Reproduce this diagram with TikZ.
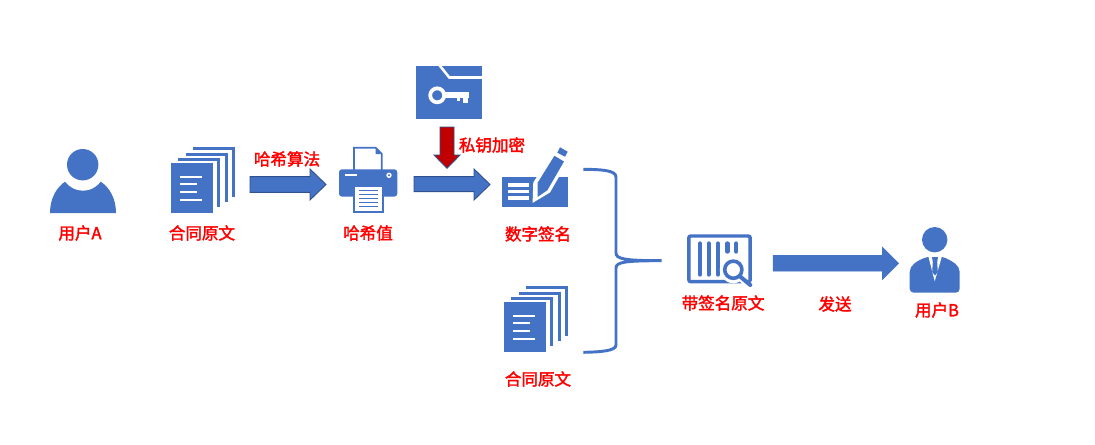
\documentclass[tikz,border=0pt]{standalone}
\usepackage{fontspec}
\newfontfamily\cjk[FakeBold=2]{Noto Sans CJK SC}
\definecolor{iconblue}{HTML}{4472C4}
\definecolor{edgeblue}{HTML}{2F528F}
\definecolor{darkred}{HTML}{C00000}
\tikzset{
  lbl/.style={text=red,font=\cjk\fontsize{12.4}{14}\selectfont,inner sep=0pt},
  ico/.style={fill=iconblue,draw=none},
  cut/.style={draw=white,line width=1.9pt},
  blockarrow/.style={fill=iconblue,draw=edgeblue,line width=0.7pt,line join=miter},
  redarrow/.style={fill=darkred,draw=edgeblue,line width=0.7pt,line join=miter},
  pagestrip/.style={draw=iconblue,line width=2.4pt,line cap=butt,line join=miter},
  textline/.style={draw=white,line width=1.1pt},
  bracket/.style={draw=iconblue,line width=2.2pt}
}
% document stack icon: #1 = x shift, #2 = y shift
\newcommand{\docstack}[2]{%
  \begin{scope}[shift={(#1,#2)}]
    \draw[pagestrip] (193,148.3) -- (233.4,148.3) -- (233.4,197);
    \draw[pagestrip] (186,154.3) -- (226.4,154.3) -- (226.4,202);
    \draw[pagestrip] (178,159.8) -- (218.4,159.8) -- (218.4,207);
    \fill[iconblue] (171,163) rectangle (213,213);
    \draw[textline] (180,177) -- (202,177);
    \draw[textline] (180,184) -- (197,184);
    \draw[textline] (180,192) -- (197,192);
    \draw[textline] (180,200) -- (202,200);
  \end{scope}}
\begin{document}
\begin{tikzpicture}[x=0.75pt,y=-0.75pt]
\useasboundingbox (0,0) rectangle (1095,444);
\fill[white] (0,0) rectangle (1095,444);

% user A
\fill[iconblue] (82.7,164.7) circle (15.7);
\fill[iconblue] (50,213) .. controls (50,198) and (57,187) .. (65,181.7)
  .. controls (70,188) and (76,190.7) .. (83,190.7)
  .. controls (90,190.7) and (96,188) .. (100.7,181.7)
  .. controls (109,187) and (116,198) .. (116,213) -- cycle;
\node[lbl] (userA) at (80,233) {用户A};

% contract 1
\docstack{0}{0}
\node[lbl] (doc1) at (202,233) {合同原文};

% arrow 1
\draw[blockarrow] (250,176.7) -- (310,176.7) -- (310,169) -- (326,184.5) -- (310,200) -- (310,192.3) -- (250,192.3) -- cycle;
\node[lbl] (hashalg) at (287,159) {哈希算法};

% printer
\draw[draw=iconblue,fill=white,line width=1.3pt,line join=miter] (354,147.7) -- (375.7,147.7) -- (381.7,153.7) -- (381.7,172) -- (354,172) -- cycle;
\fill[iconblue] (375.7,148) -- (381.7,154) -- (375.7,154) -- cycle;
\fill[iconblue,rounded corners=2.2pt] (339,169.3) rectangle (397.3,196.6);
\draw[white,line width=1.2pt] (344.5,175) -- (357.3,175);
\fill[white] (389,175.3) circle (2.7);
\fill[iconblue] (389,175.3) circle (1.1);
\draw[draw=iconblue,fill=white,line width=1.4pt] (354,186) rectangle (382.7,212.3);
\foreach \yy in {190.5,194.5,198.5,202.5,206.5}{\draw[iconblue,line width=1.2pt] (359.3,\yy) -- (377.7,\yy);}
\node[lbl] (hashval) at (368,233) {哈希值};

% private key icon
\fill[iconblue] (416,66) rectangle (482,119);
\draw[cut,line join=miter] (439.3,65) -- (449.3,77.5) -- (482,77.5);
\draw[white,line width=2.8pt] (437.2,95.3) circle (7);
\fill[white] (444,92.3) rectangle (469,97.8);
\fill[white] (456.7,95) rectangle (460.3,101);
\fill[white] (462.7,95) rectangle (467.6,103);

% red arrow
\draw[redarrow] (440,127) -- (454,127) -- (454,155) -- (460,155) -- (447,168.3) -- (434,155) -- (440,155) -- cycle;
\node[lbl] (encrypt) at (492,145) {私钥加密};

% arrow 2
\draw[blockarrow] (414,176.7) -- (474,176.7) -- (474,169) -- (490,184.5) -- (474,200) -- (474,191.7) -- (414,191.7) -- cycle;

% signature icon
\fill[iconblue] (502,176.7) rectangle (568,206.7);
\fill[white] (507.7,183) rectangle (529,186.7);
\fill[white] (507.7,189.6) rectangle (529,193.3);
\fill[white] (507.7,196.4) rectangle (529,200.1);
\draw[draw=white,fill=white,line width=2pt,line join=miter] (534,200.5) -- (534.6,183) -- (553,153) -- (566.5,161) -- (549,191.5) -- cycle;
\fill[iconblue] (537.5,197) -- (537.5,183) -- (554.4,155.8) -- (564,161.5) -- (547.3,190.3) -- cycle;
\fill[iconblue] (557.3,152.7) -- (560,147.3) -- (567.7,151.7) -- (565,156.7) -- cycle;
\node[lbl] (sign) at (538,234) {数字签名};

% contract 2
\docstack{333}{139}
\node[lbl] (doc2) at (538,379) {合同原文};

% bracket
\coordinate (brTop) at (583.3,169.3);
\coordinate (brBot) at (583.3,352.3);
\coordinate (brTip) at (661.7,260.7);
\draw[bracket] (brTop) .. controls (600,169.5) and (616,170) .. (616,177)
  -- (616,253) .. controls (616,259) and (625,260.7) .. (brTip)
  .. controls (625,260.7) and (616,262) .. (616,268)
  -- (616,345) .. controls (616,351) and (600,352) .. (brBot);

% barcode icon
\draw[iconblue,line width=2.6pt,rounded corners=1.5pt] (688.8,236) rectangle (750.2,281.7);
\foreach \bx/\by in {700/274.5,708.7/274.5,718/274.5,727.4/251.5,736.2/251.5}{
  \draw[iconblue,line width=3.3pt,line cap=round] (\bx,243.5) -- (\bx,\by);}
\fill[white] (733.3,269.7) circle (13.5);
\draw[white,line width=4.5pt] (740.7,278) -- (751.7,289);
\draw[iconblue,line width=2.7pt] (733.3,269.7) circle (8.6);
\draw[iconblue,line width=3pt,line cap=round] (740.7,277) -- (750.3,285);
\node[lbl] (signed) at (723,303) {带签名原文};

% arrow 3
\draw[blockarrow,draw=iconblue] (773.3,255.7) -- (882.7,255.7) -- (882.7,247.7) -- (898.3,263.3) -- (882.7,279) -- (882.7,271) -- (773.3,271) -- cycle;
\node[lbl] (send) at (835,304) {发送};

% user B
\fill[iconblue] (934.7,239.7) circle (12.7);
\fill[iconblue,rounded corners=3pt] (909.7,292.7) -- (909.7,276) .. controls (909.7,265) and (917,261) .. (928,256.5) -- (942,256.5) .. controls (952,261) and (959.7,265) .. (959.7,276) -- (959.7,292.7) -- cycle;
\fill[white] (928,255) -- (934.7,281.3) -- (942.3,255) -- cycle;
\fill[iconblue] (932,257) -- (938,257) -- (937.2,262) -- (937.8,272) -- (935,275.5) -- (932.2,272) -- (932.8,262) -- cycle;
\node[lbl] (userB) at (937,310) {用户B};
\end{tikzpicture}
\end{document}
